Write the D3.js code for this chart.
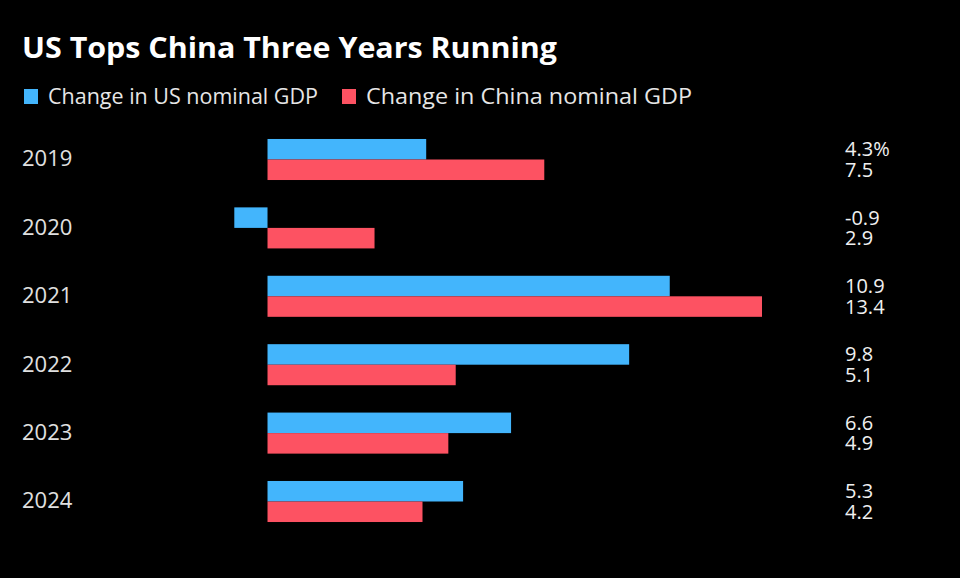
<!DOCTYPE html>
<html><head><meta charset="utf-8">
<script src="https://cdn.jsdelivr.net/npm/d3@7"></script>
<style>
html,body{margin:0;padding:0;background:#000;}
svg{display:block;}
text{font-family:"Open Sans",sans-serif;}
</style></head>
<body>
<script>
const years = ["2019","2020","2021","2022","2023","2024"];
const seriesNames = ["Change in US nominal GDP","Change in China nominal GDP"];
const usValues = [4.3,-0.9,10.9,9.8,6.6,5.3];
const chinaValues = [7.5,2.9,13.4,5.1,4.9,4.2];
const colors = ["#43b5fc","#fd5262"];
const title = "US Tops China Three Years Running";

const W=960,H=578;
const svg=d3.select("body").append("svg").attr("width",W).attr("height",H);
svg.append("rect").attr("width",W).attr("height",H).attr("fill","#000");

const t = svg.append("text").attr("x",22).attr("y",58).attr("fill","#fff")
  .attr("font-size",28).attr("font-weight",700).text(title);
const tw=t.node().getComputedTextLength();
if(Math.abs(tw-535)>4) t.attr("textLength",535).attr("lengthAdjust","spacingAndGlyphs");

// legend
const legX=[24,342], legTextEnd=[318,692];
seriesNames.forEach((n,i)=>{
  svg.append("rect").attr("x",legX[i]).attr("y",89).attr("width",14).attr("height",15).attr("fill",colors[i]);
  const lt=svg.append("text").attr("x",legX[i]+24).attr("y",104).attr("fill","#e6e6e6")
    .attr("font-size",22).text(n);
  const target=legTextEnd[i]-(legX[i]+24);
  if(Math.abs(lt.node().getComputedTextLength()-target)>4) lt.attr("textLength",target).attr("lengthAdjust","spacingAndGlyphs");
});

const y = d3.scaleBand().domain(years).range([125.3,535.7]).paddingInner(0.4).paddingOuter(0.2);
const ys = d3.scaleBand().domain([0,1]).range([0,y.bandwidth()]);
const x = d3.scaleLinear().domain([-0.9,13.4]).range([234.3,762]);
const data = years.map((yr,i)=>({yr, vals:[usValues[i],chinaValues[i]]}));

const g = svg.selectAll("g.row").data(data).enter().append("g").attr("class","row")
  .attr("transform",d=>`translate(0,${y(d.yr)})`);
g.selectAll("rect").data(d=>d.vals.map((v,i)=>({v,i}))).enter().append("rect")
  .attr("x",d=>x(Math.min(0,d.v))).attr("width",d=>Math.abs(x(d.v)-x(0)))
  .attr("y",d=>ys(d.i)).attr("height",ys.bandwidth()).attr("fill",d=>colors[d.i]);

g.append("text").attr("x",22).attr("y",y.bandwidth()/2+7).attr("fill","#e0e0e0")
  .attr("font-size",22).text(d=>d.yr);

const fmt=d3.format(".1f");
const vt = g.append("text").attr("class","val").attr("fill","#f0f0f0").attr("font-size",20);
vt.selectAll("tspan").data((d,ri)=>d.vals.map((v,i)=>({v,i,ri}))).enter().append("tspan")
  .attr("x",845).attr("y",d=>ys(d.i)+ys.bandwidth()/2+7)
  .text(d=>fmt(d.v).replace("\u2212","-")+(d.ri===0&&d.i===0?"%":""));
</script>
</body></html>
